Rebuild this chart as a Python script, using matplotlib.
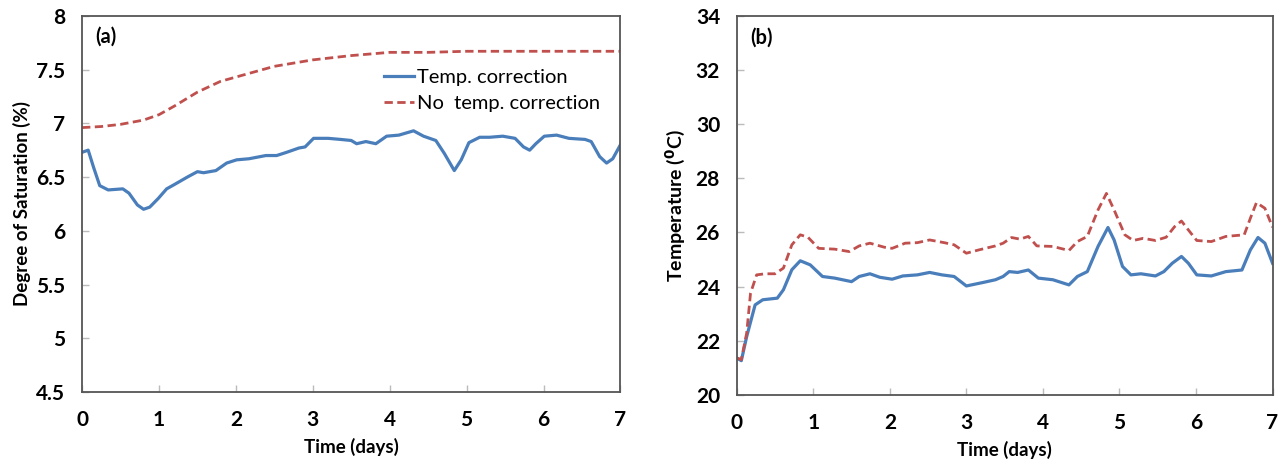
import matplotlib
matplotlib.use("Agg")
import matplotlib.pyplot as plt

# (a) degree of saturation, % vs time in days
sat_t = [0, 0.08, 0.15, 0.23, 0.34, 0.53, 0.61, 0.72, 0.80, 0.88, 0.99, 1.10, 1.20, 1.37,
         1.50, 1.58, 1.74, 1.88, 2.01, 2.17, 2.39, 2.53, 2.66, 2.82, 2.90, 3.01, 3.20, 3.36,
         3.50, 3.57, 3.69, 3.82, 3.96, 4.12, 4.31, 4.44, 4.60, 4.71, 4.84, 4.93, 5.03, 5.17,
         5.30, 5.47, 5.63, 5.74, 5.82, 5.90, 6.01, 6.17, 6.33, 6.54, 6.62, 6.73, 6.82, 6.90, 7.0]
sat_corr = [6.73, 6.75, 6.59, 6.42, 6.38, 6.39, 6.35, 6.24, 6.20, 6.22, 6.30, 6.39, 6.43, 6.50,
            6.55, 6.54, 6.56, 6.63, 6.66, 6.67, 6.70, 6.70, 6.73, 6.77, 6.78, 6.86, 6.86, 6.85,
            6.84, 6.81, 6.83, 6.81, 6.88, 6.89, 6.93, 6.88, 6.84, 6.72, 6.56, 6.66, 6.82, 6.87,
            6.87, 6.88, 6.86, 6.78, 6.75, 6.81, 6.88, 6.89, 6.86, 6.85, 6.83, 6.69, 6.63, 6.67, 6.80]

sat_nc_t = [0, 0.25, 0.5, 0.8, 1.0, 1.2, 1.5, 1.8, 2.0, 2.5, 3.0, 3.5, 4.0, 4.5, 5.0, 6.0, 7.0]
sat_nocorr = [6.96, 6.97, 6.99, 7.03, 7.08, 7.16, 7.29, 7.39, 7.43, 7.53, 7.59, 7.63, 7.66,
              7.66, 7.67, 7.67, 7.67]

# (b) temperature, degC vs time in days
temp_t = [0, 0.06, 0.13, 0.24, 0.34, 0.53, 0.61, 0.72, 0.83, 0.96, 1.12, 1.28, 1.50, 1.60,
          1.74, 1.87, 2.03, 2.17, 2.36, 2.52, 2.68, 2.84, 3.00, 3.22, 3.38, 3.48, 3.56, 3.67,
          3.81, 3.94, 4.13, 4.34, 4.45, 4.58, 4.72, 4.85, 4.93, 5.04, 5.15, 5.28, 5.47, 5.58,
          5.69, 5.81, 5.90, 6.01, 6.20, 6.39, 6.60, 6.71, 6.81, 6.90, 7.0]
temp_corr = [21.36, 21.26, 22.15, 23.32, 23.51, 23.57, 23.88, 24.62, 24.95, 24.80, 24.37, 24.31,
             24.18, 24.37, 24.47, 24.34, 24.27, 24.39, 24.43, 24.52, 24.43, 24.37, 24.02, 24.15,
             24.25, 24.37, 24.55, 24.52, 24.61, 24.31, 24.25, 24.06, 24.37, 24.55, 25.48, 26.18,
             25.72, 24.74, 24.43, 24.47, 24.39, 24.55, 24.86, 25.11, 24.86, 24.43, 24.39, 24.55,
             24.61, 25.35, 25.81, 25.60, 24.86]

temp_nc_t = [0, 0.06, 0.13, 0.18, 0.26, 0.37, 0.50, 0.61, 0.72, 0.83, 0.93, 1.07, 1.28, 1.47,
             1.60, 1.74, 1.93, 2.03, 2.20, 2.36, 2.52, 2.71, 2.84, 3.00, 3.16, 3.38, 3.48, 3.59,
             3.70, 3.81, 3.92, 4.13, 4.34, 4.45, 4.58, 4.72, 4.83, 4.93, 5.07, 5.18, 5.31, 5.47,
             5.61, 5.72, 5.81, 5.90, 6.01, 6.20, 6.39, 6.63, 6.71, 6.79, 6.90, 7.0]
temp_nocorr = [21.36, 21.30, 22.28, 23.75, 24.43, 24.47, 24.47, 24.68, 25.54, 25.91, 25.82,
               25.41, 25.38, 25.29, 25.50, 25.60, 25.45, 25.41, 25.60, 25.62, 25.72, 25.62,
               25.54, 25.23, 25.35, 25.50, 25.60, 25.81, 25.75, 25.85, 25.50, 25.48, 25.33,
               25.66, 25.85, 26.83, 27.44, 26.83, 25.91, 25.70, 25.78, 25.70, 25.82, 26.21,
               26.42, 26.09, 25.70, 25.66, 25.85, 25.91, 26.52, 27.10, 26.89, 26.19]

BLUE = "#4a7ebb"
RED = "#c0504d"

plt.rcParams["font.family"] = ["Lato", "DejaVu Sans"]

fig = plt.figure(figsize=(12.88, 4.65), dpi=100)
ax1 = fig.add_axes([0.0637, 0.157, 0.418, 0.809])
ax2 = fig.add_axes([0.572, 0.151, 0.416, 0.815])


def style_axis(ax):
    for s in ax.spines.values():
        s.set_color("#555555")
        s.set_linewidth(1.3)
    ax.tick_params(direction="in", length=5, width=1, color="#bbbbbb", labelsize=15)
    ax.tick_params(axis="x", pad=13)
    ax.tick_params(axis="y", pad=12)
    for lab in ax.get_xticklabels() + ax.get_yticklabels():
        lab.set_fontweight("bold")
    ax.set_xlabel("Time (days)", fontsize=13.5, fontweight="bold", labelpad=6)


ax1.plot(sat_t, sat_corr, color=BLUE, lw=2.3, label="Temp. correction")
ax1.plot(sat_nc_t, sat_nocorr, color=RED, lw=2.0, ls=(0, (3, 1.6)), label="No  temp. correction")
ax1.set_xlim(0, 7)
ax1.set_ylim(4.5, 8)
ax1.set_xticks(range(8))
ax1.set_yticks([4.5, 5, 5.5, 6, 6.5, 7, 7.5, 8])
ax1.set_yticklabels(["4.5", "5", "5.5", "6", "6.5", "7", "7.5", "8"])
style_axis(ax1)
ax1.set_ylabel("Degree of Saturation (%)", fontsize=13.5, fontweight="bold", labelpad=4)
ax1.text(0.025, 0.97, "(a)", transform=ax1.transAxes, fontsize=14.5, fontweight="bold", va="top")
leg = ax1.legend(loc="upper left", bbox_to_anchor=(0.545, 0.88), frameon=False, fontsize=14.5,
                 handlelength=1.5, handletextpad=0.15, labelspacing=0.45, borderaxespad=0.0)

ax2.plot(temp_t, temp_corr, color=BLUE, lw=2.3)
ax2.plot(temp_nc_t, temp_nocorr, color=RED, lw=2.0, ls=(0, (3, 1.6)))
ax2.set_xlim(0, 7)
ax2.set_ylim(20, 34)
ax2.set_xticks(range(8))
ax2.set_yticks(range(20, 35, 2))
style_axis(ax2)
ax2.set_ylabel(r"Temperature ($\mathbf{^{0}}$C)", fontsize=14, fontweight="bold", labelpad=6)
ax2.text(0.025, 0.97, "(b)", transform=ax2.transAxes, fontsize=14.5, fontweight="bold", va="top")

fig.savefig("out.png", dpi=100)
